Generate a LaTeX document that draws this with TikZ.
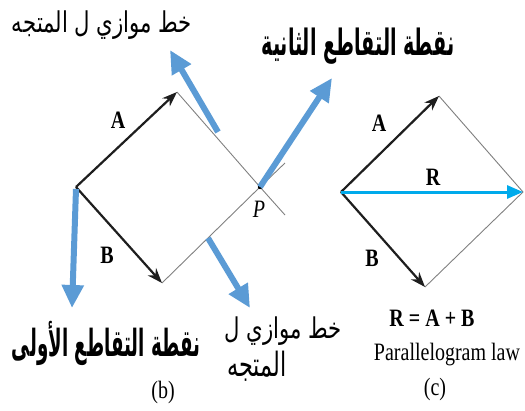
\documentclass[tikz,border=0pt]{standalone}
\usepackage{fontspec}
\usetikzlibrary{arrows.meta}
\TeXXeTstate=1
\newfontfamily\arabicfont[Script=Arabic]{DejaVu Sans}
\newfontfamily\labfont[FakeStretch=0.8]{Liberation Serif}
\definecolor{sblue}{RGB}{91,155,213}
\definecolor{rcyan}{RGB}{0,170,235}
\definecolor{pgray}{RGB}{128,128,128}
\tikzset{
  vec/.style={line width=2.2pt, draw={rgb,255:red,30;green,30;blue,30}, -{Stealth[length=15pt,width=11pt]}},
  side/.style={line width=0.9pt, draw=pgray},
  bluearrow/.style={line width=6pt, draw=sblue, -{Triangle[length=23pt,width=21pt]}},
  rvec/.style={line width=3pt, draw=rcyan, -{Triangle[length=16pt,width=13pt]}},
  lab/.style={font=\labfont\fontsize{25}{25}\selectfont\bfseries, inner sep=0pt},
  captext/.style={font=\labfont\fontsize{25}{25}\selectfont, inner sep=0pt},
  artext/.style={inner sep=0pt, text=black}
}
\begin{document}
\begin{tikzpicture}[x=1pt,y=-1pt]
\useasboundingbox (0,0) rectangle (525,410);
% (b) points
\coordinate (Ob) at (76,187);
\coordinate (Ab) at (177,92);
\coordinate (Bb) at (162,283);
\coordinate (P) at (260,187);
\coordinate (Pa) at (285,215);
\coordinate (Pb) at (285,163);
% sides
\draw[side] (Ab) -- (P) -- (Pa);
\draw[side] (Bb) -- (P) -- (Pb);
% vectors
\draw[vec] (Ob) -- (Ab);
\draw[vec] (Ob) -- (Bb);
\fill (P) circle (2.2pt);
% blue arrows
\coordinate (t1) at (218,132); \coordinate (h1) at (170,50);
\coordinate (h2) at (332,78);
\coordinate (t3) at (76,189); \coordinate (h3) at (72,308);
\coordinate (t4) at (208,238); \coordinate (h4) at (250,308);
\draw[bluearrow] (t1) -- (h1);
\draw[bluearrow] (P) -- (h2);
\draw[bluearrow] (t3) -- (h3);
\draw[bluearrow] (t4) -- (h4);
% labels (b)
\node[lab] (labA) at (118,120) {A};
\node[lab] (labB) at (107,255) {B};
\node[captext, font=\labfont\fontsize{25}{25}\selectfont\itshape] (labP) at (259,209) {P};
\node[captext] (capb) at (163,392) {(b)};
% Arabic texts
\node[artext] (ar1) at (102,25) {\scalebox{1}[1.35]{\resizebox{180pt}{!}{\arabicfont\beginR خط موازي ل المتجه\endR}}};
\node[artext] (ar2) at (358,46) {\scalebox{1}[1.9]{\resizebox{193pt}{!}{\arabicfont\bfseries\beginR نقطة التقاطع الثانية\endR}}};
\node[artext] (ar3) at (106,343) {\scalebox{1}[2.05]{\resizebox{188pt}{!}{\arabicfont\bfseries\beginR نقطة التقاطع الأولى\endR}}};
\node[artext] (ar4) at (283,331) {\scalebox{1}[1.35]{\resizebox{117pt}{!}{\arabicfont\beginR خط موازي ل\endR}}};
\node[artext] (ar5) at (257,366) {\scalebox{1}[1.5]{\resizebox{59pt}{!}{\arabicfont\beginR المتجه\endR}}};
% (c)
\coordinate (Oc) at (341,192);
\coordinate (Ac) at (439,96);
\coordinate (Bc) at (425,287);
\coordinate (Rc) at (523,192);
\draw[side] (Ac) -- (Rc) -- (Bc);
\draw[vec] (Oc) -- (Ac);
\draw[vec] (Oc) -- (Bc);
\draw[rvec] (Oc) -- (Rc);
\node[lab] (labAc) at (379,123) {A};
\node[lab] (labR) at (433,177) {R};
\node[lab] (labBc) at (372,258) {B};
\node[lab] (eq) at (432,318) {R = A + B};
\node[captext] (law) at (447,355) {Parallelogram law};
\node[captext] (capc) at (435,389) {(c)};
\end{tikzpicture}
\end{document}
